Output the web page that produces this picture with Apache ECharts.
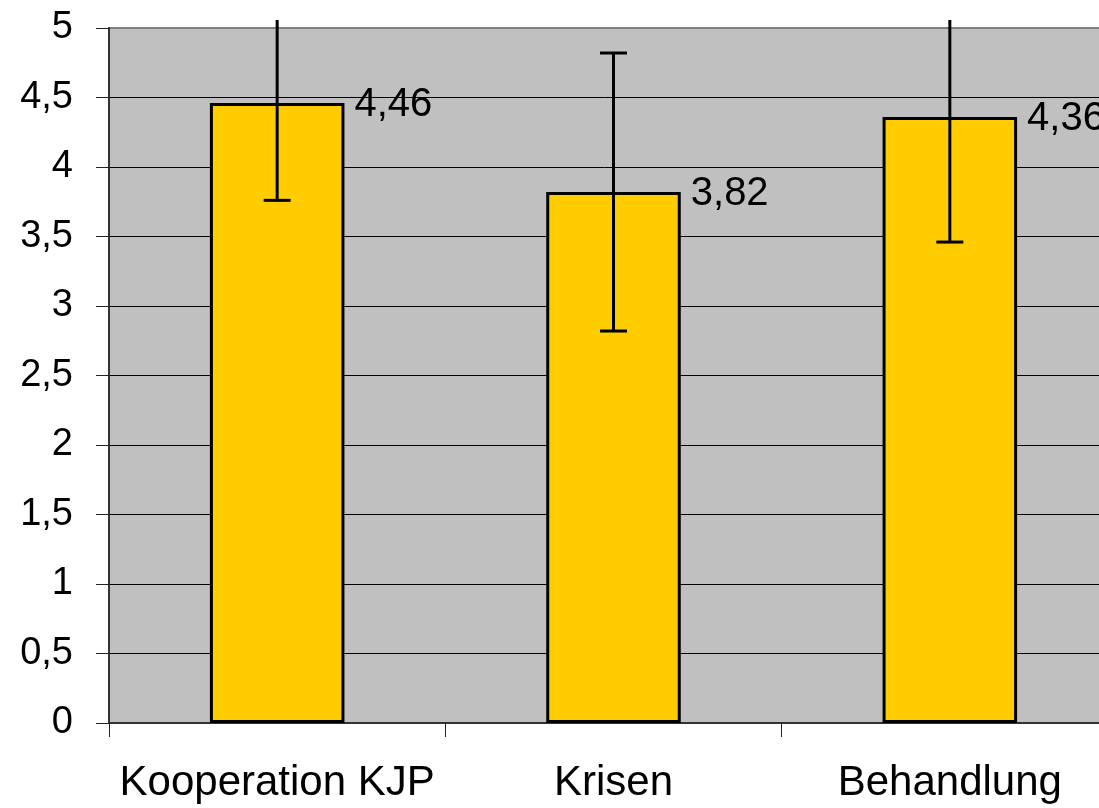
<!DOCTYPE html>
<html>
<head>
<meta charset="utf-8">
<script src="https://cdn.jsdelivr.net/npm/echarts@6/dist/echarts.min.js"></script>
<style>
html,body{margin:0;padding:0;background:#fff;overflow:hidden;}
#c{width:1099px;height:808px;}
</style>
</head>
<body>
<div id="c"></div>
<script>
var categories = ['Kooperation KJP', 'Krisen', 'Behandlung'];
var means = [4.46, 3.82, 4.36];
var errors = [0.70, 1.00, 0.90];
var yTicks = [0, 0.5, 1, 1.5, 2, 2.5, 3, 3.5, 4, 4.5, 5];

function comma(v){ return String(v).replace('.', ','); }

var errData = means.map(function(m, i){ return [i, m - errors[i], m + errors[i]]; });

var FONT = 'Liberation Sans';
var chart = echarts.init(document.getElementById('c'), null, {renderer:'canvas'});
chart.setOption({
  animation: false,
  backgroundColor: '#ffffff',
  grid: {
    left: 109, top: 28, width: 1009, height: 695,
    containLabel: false,
    outerBoundsMode: 'none',
    show: true, backgroundColor: '#C0C0C0', borderColor: '#808080', borderWidth: 2
  },
  xAxis: {
    type: 'category',
    data: categories,
    axisLine: {show: true, lineStyle: {color: '#333333', width: 2}},
    axisTick: {show: true, length: 14, lineStyle: {color: '#222', width: 1}},
    axisLabel: {color: '#000', fontFamily: FONT, fontSize: 42, margin: 39, interval: 0}
  },
  yAxis: {
    type: 'value',
    min: yTicks[0], max: yTicks[yTicks.length - 1], interval: 0.5,
    axisLine: {show: true, lineStyle: {color: '#333333', width: 2}},
    axisTick: {show: true, length: 13, lineStyle: {color: '#222', width: 1}},
    axisLabel: {color: '#000', fontFamily: FONT, fontSize: 38, margin: 36, formatter: comma},
    splitLine: {show: true, showMinLine: false, showMaxLine: false, lineStyle: {color: '#000', width: 1}}
  },
  series: [
    {
      type: 'bar',
      data: means,
      barWidth: '40%',
      itemStyle: {color: '#FFCC00', borderColor: '#000', borderWidth: 3},
      label: {
        show: true, position: ['100%', 0], align: 'left', verticalAlign: 'middle',
        offset: [10, 2], color: '#000', fontFamily: FONT, fontSize: 40,
        formatter: function(p){ return comma(p.value); }
      },
      z: 2
    },
    {
      type: 'custom',
      data: errData,
      clip: false,
      z: 3,
      renderItem: function(params, api){
        var i = api.value(0);
        var lo = api.coord([i, api.value(1)]);
        var hi = api.coord([i, api.value(2)]);
        var limit = params.coordSys.y - 8;
        var topY = Math.max(hi[1], limit);
        var x = lo[0];
        var half = 13.5;
        var st = {stroke: '#000', lineWidth: 3};
        var children = [
          {type: 'line', shape: {x1: x, y1: topY, x2: x, y2: lo[1]}, style: st},
          {type: 'line', shape: {x1: x - half, y1: lo[1], x2: x + half, y2: lo[1]}, style: st}
        ];
        if (hi[1] >= limit) {
          children.push({type: 'line', shape: {x1: x - half, y1: hi[1], x2: x + half, y2: hi[1]}, style: st});
        }
        return {type: 'group', children: children};
      }
    }
  ]
});
</script>
</body>
</html>
